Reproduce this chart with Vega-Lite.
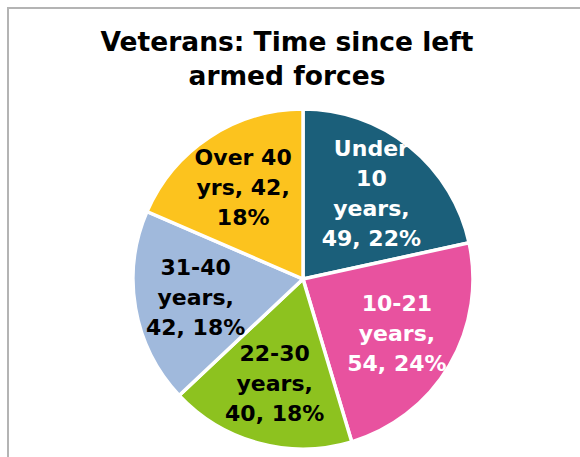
{
  "$schema": "https://vega.github.io/schema/vega-lite/v6.json",
  "autosize": "none",
  "padding": {"left": 8, "top": 8, "right": -18, "bottom": -93},
  "width": 590,
  "height": 542,
  "background": "white",
  "view": {"stroke": "#b4b4b4", "strokeWidth": 2},
  "title": {
    "text": ["Veterans: Time since left", "armed forces"],
    "font": "DejaVu Sans",
    "fontSize": 26.5,
    "fontWeight": "bold",
    "color": "black",
    "anchor": "middle",
    "dx": -16,
    "offset": -82,
    "lineHeight": 34
  },
  "data": {
    "values": [
      {"n": 1, "cat": "Under 10 years", "value": 49, "label": ["Under", "10", "years,", "49, 22%"]},
      {"n": 2, "cat": "10-21 years", "value": 54, "label": ["10-21", "years,", "54, 24%"]},
      {"n": 3, "cat": "22-30 years", "value": 40, "label": ["22-30", "years,", "40, 18%"]},
      {"n": 4, "cat": "31-40 years", "value": 42, "label": ["31-40", "years,", "42, 18%"]},
      {"n": 5, "cat": "Over 40 yrs", "value": 42, "label": ["Over 40", "yrs, 42,", "18%"]}
    ]
  },
  "encoding": {
    "theta": {"field": "value", "type": "quantitative", "stack": true},
    "order": {"field": "n", "type": "quantitative"}
  },
  "layer": [
    {
      "mark": {"type": "arc", "outerRadius": 170, "stroke": "white", "strokeWidth": 3.5},
      "encoding": {
        "color": {
          "field": "cat",
          "type": "nominal",
          "sort": null,
          "legend": null,
          "scale": {
            "domain": ["Under 10 years", "10-21 years", "22-30 years", "31-40 years", "Over 40 yrs"],
            "range": ["#1b5f7a", "#e8529f", "#8dc21f", "#a0b9dc", "#fcc31e"]
          }
        }
      }
    },
    {
      "mark": {"type": "text", "radius": 109, "dy": -45, "font": "DejaVu Sans", "fontSize": 22, "fontWeight": "bold", "lineHeight": 30, "align": "center", "baseline": "middle", "color": "white"},
      "encoding": {
        "text": {"condition": {"test": "datum.n == 1", "field": "label"}, "value": ""}
      }
    },
    {
      "mark": {"type": "text", "radius": 109, "dy": -30, "font": "DejaVu Sans", "fontSize": 22, "fontWeight": "bold", "lineHeight": 30, "align": "center", "baseline": "middle"},
      "encoding": {
        "text": {"condition": {"test": "datum.n >= 2", "field": "label"}, "value": ""},
        "color": {
          "condition": {"test": "datum.n == 2", "value": "white"},
          "value": "black"
        }
      }
    }
  ]
}
